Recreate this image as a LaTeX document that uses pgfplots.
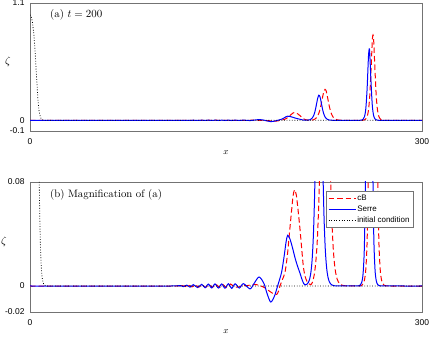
\documentclass[border=0pt]{standalone}
\usepackage{pgfplots}
\usepackage{pgfplotstable}
\pgfplotsset{compat=1.18}
\usepackage{fontspec}
\newfontfamily\arialf{Liberation Sans}
\definecolor{framegray}{gray}{0.45}

\pgfplotstableread{
x y
0 0
108 0
112 0.0001
115 0.0003
117.5 -0.0005
120 0.0007
122.5 -0.0009
125 0.0011
128.2 -0.0012
131.4 0.0013
134 -0.0014
136.5 0.0015
139 -0.0015
141.6 0.0016
144.2 -0.0016
146.7 0.0016
149.2 -0.0017
151.8 0.0017
154.4 -0.0018
157 0.0017
160.2 -0.0016
163.3 0.0018
168.4 -0.0022
171.5 0.0020
175.3 0.0069
179 0.0020
181.5 -0.0060
184.2 -0.0123
187 -0.0080
189.5 0.0000
191 0.0050
192.6 0.0108
194.5 0.0230
196 0.0340
197.2 0.0390
199 0.0360
201 0.0290
203 0.0210
205 0.0145
206.6 0.0100
208 0.0055
209.5 0.0018
210.5 0.0008
212 0.0014
213 0.0027
214 0.0053
215 0.0107
216 0.0215
217 0.0422
218 0.0785
219 0.1343
220 0.1980
221 0.2360
222 0.2180
223 0.1596
224 0.0980
225 0.0539
226 0.0279
227 0.0141
228 0.0070
229 0.0034
230 0.0017
231 0.0008
233 0.0002
236 0.00002
250 0.00003
251 0.0001
252 0.0003
253 0.0010
254 0.0032
255 0.0107
256 0.0348
257 0.1090
258 0.2980
259 0.5900
259.6 0.6700
260 0.6330
261 0.3540
262 0.1350
263 0.0437
264 0.0135
265 0.0041
266 0.0012
267 0.0004
268 0.0001
270 0.00001
300 0
}\serre

\pgfplotstableread{
x y
0 0
112 0
116 0.0003
118.8 -0.0004
121.4 0.0006
124 -0.0007
126.6 0.0008
129.2 -0.0009
131.8 0.0010
134.4 -0.0011
137 0.0011
139.6 -0.0011
142.4 0.0013
145 -0.0012
147.6 0.0012
150.2 -0.0012
153.5 0.0015
156.5 -0.0008
159.5 -0.0008
163 0.0002
167 0.0004
172.2 0.0012
176 0.0003
180 -0.0015
184 -0.0045
187 -0.0063
188.8 -0.0065
190.2 -0.0040
191.3 0.0000
193.2 0.0050
195.2 0.0108
197 0.0240
198.5 0.0400
200 0.0560
201.3 0.0690
202.5 0.0740
203.8 0.0700
205.2 0.0580
206.6 0.0440
208 0.0280
209.2 0.0150
210.5 0.0075
212 0.0035
213.5 0.0016
215 0.0010
216 0.0025
217 0.0060
218 0.0118
219 0.0218
220 0.0378
221 0.0641
222 0.1042
223 0.1600
224 0.2238
225 0.2752
225.8 0.2900
226.6 0.2790
227 0.2572
228 0.1975
229 0.1352
230 0.0855
231 0.0516
232 0.0300
233 0.0173
234 0.0098
235 0.0055
236 0.0031
237 0.0017
239 0.00055
242 0.0001
246 0
253 0.00024
254 0.00065
255 0.0018
256 0.0048
257 0.0130
258 0.0348
259 0.0910
260 0.2243
261 0.4773
262 0.7520
262.5 0.8000
263 0.7520
264 0.4773
265 0.2243
266 0.0910
267 0.0348
268 0.0130
269 0.0048
270 0.0018
271 0.00065
272 0.00024
276 0
300 0
}\cb

\pgfplotstableread{
x y
0 0.99
1 0.97
2 0.91
3 0.80
4 0.63
5 0.41
6 0.21
6.5 0.14
7 0.085
7.5 0.052
8 0.030
8.5 0.017
9 0.0095
9.5 0.0052
10 0.0028
10.5 0.0014
11 0.0007
12 0.0002
13 0
300 0
}\initc

\pgfplotsset{
  mystyle/.style={
    scale only axis, width=392bp,
    xmin=0, xmax=300,
    xtick={0,300}, xticklabels={0,300},
    scaled y ticks=false, scaled x ticks=false,
    axis line style={framegray, line width=0.6bp},
    tick style={framegray, line width=0.5bp},
    major tick length=3bp,
    tick align=inside,
    ticklabel style={font=\fontsize{8.5}{10}\selectfont\arialf},
    xticklabel style={yshift=-4bp},
    yticklabel style={xshift=-2bp},
    every axis y label/.style={at={(axis description cs:0,0.5)}, anchor=center, yshift=5bp, font=\fontsize{10.5}{12}\selectfont},
    every axis x label/.style={at={(axis description cs:0.5,0)}, anchor=center, font=\fontsize{9}{10}\selectfont},
    legend image code/.code={\draw[#1] (0bp,0bp) -- (27bp,0bp);},
  },
  cbstyle/.style={red, line width=1bp, dash pattern=on 5.5bp off 3bp, smooth},
  serrestyle/.style={blue, line width=1bp, smooth},
  icstyle/.style={black, line width=0.8bp, dash pattern=on 0.8bp off 1.8bp},
}

\begin{document}
\begin{tikzpicture}
\useasboundingbox (0,0) rectangle (430bp,337bp);
\begin{axis}[mystyle,
  at={(30bp,206bp)}, anchor=south west, height=128bp,
  ymin=-0.1, ymax=1.1, ytick={-0.1,0,1.1}, yticklabels={-0.1,0,1.1},
  xlabel={$x$}, ylabel={$\zeta$},
  xlabel style={yshift=-22bp}, ylabel style={xshift=-22bp},
  after end axis/.code={\node[anchor=west, inner sep=0pt, font=\fontsize{10.8}{13}\selectfont] at (rel axis cs:0.051,0.906) {(a) $t=200$};}]
\addplot[cbstyle] table {\cb};
\addplot[serrestyle] table {\serre};
\addplot[icstyle] table {\initc};
\end{axis}
\begin{axis}[mystyle,
  at={(30bp,25bp)}, anchor=south west, height=130bp,
  ymin=-0.02, ymax=0.08, ytick={-0.02,0,0.08}, yticklabels={-0.02,0,0.08},
  xlabel={$x$}, ylabel={$\zeta$},
  xlabel style={yshift=-20bp}, ylabel style={xshift=-26bp},
  after end axis/.code={\node[anchor=west, inner sep=0pt, font=\fontsize{10.8}{13}\selectfont] at (rel axis cs:0.051,0.9) {(b) Magnification of (a)};},
  legend style={at={(axis description cs:1,1)}, anchor=north east, xshift=-9bp, yshift=-9bp,
    draw=framegray, fill=white, line width=0.5bp, font=\fontsize{8}{9}\selectfont\arialf,
    row sep=1bp, inner sep=2bp, nodes={inner sep=1.2pt, text height=6bp, text depth=1.5bp}},
  legend cell align=left]
\addplot[cbstyle] table {\cb};
\addlegendentry{cB}
\addplot[serrestyle] table {\serre};
\addlegendentry{Serre}
\addplot[icstyle] table {\initc};
\addlegendentry{initial condition}
\end{axis}
\end{tikzpicture}
\end{document}
